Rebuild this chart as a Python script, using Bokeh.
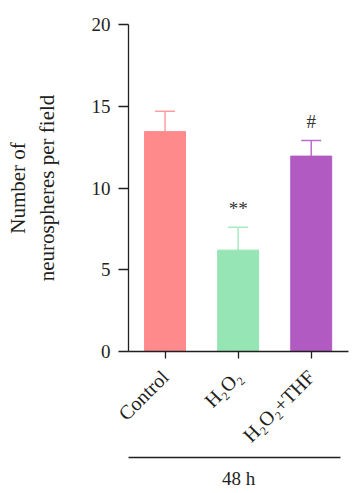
import math
from bokeh.plotting import figure
from bokeh.models import (ColumnDataSource, Range1d, FixedTicker, Whisker, LinearAxis)
from bokeh.core.properties import value
from bokeh.embed import file_html
from bokeh.resources import INLINE

# ---- data ----
categories = ["Control", "H₂O₂", "H₂O₂+THF"]
means = [13.45, 6.2, 11.95]
errors = [1.25, 1.4, 0.95]
marks = ["", "**", "#"]
colors = ["#FF8A8C", "#96E5B5", "#B05AC2"]
err_colors = ["#FF9EA0", "#A8EAC2", "#BB6FCB"]
y_ticks = [0, 5, 10, 15, 20]
group_label = "48 h"
y_label = "Number of\nneurospheres per field"

FONT = "Liberation Serif"
INK = "#231F20"
MARK_GAP = 0.5

xs = list(range(len(categories)))
uppers = [m + e for m, e in zip(means, errors)]
src = ColumnDataSource(dict(x=xs, top=means, upper=uppers, color=colors,
                            ecolor=err_colors, mark=marks,
                            mark_y=[u + MARK_GAP for u in uppers]))

p = figure(width=353, height=493, output_backend="svg", toolbar_location=None,
           x_range=Range1d(-0.5, 2.51), y_range=Range1d(0, 20),
           min_border_left=128, min_border_top=24, min_border_bottom=142,
           min_border_right=5)
p.outline_line_color = None
p.grid.visible = False

p.vbar(x="x", top="top", bottom=0, width=0.56, color="color", source=src)

w = Whisker(source=src, base="x", lower="top", upper="upper",
            line_color="ecolor", line_width=1.5, lower_head=None)
w.upper_head.size = 20
w.upper_head.line_color = "ecolor"
w.upper_head.line_width = 1.5
p.add_layout(w)

p.text(x="x", y="mark_y", text="mark", source=src, text_align="center",
       text_baseline="bottom", text_font=value(FONT), text_font_size="19px",
       text_color="#333333")

# y axis
ya = p.yaxis[0]
ya.ticker = FixedTicker(ticks=y_ticks)
ya.minor_tick_line_color = None
ya.major_tick_out = 10
ya.major_tick_in = 0
ya.major_label_standoff = 8
ya.axis_line_width = 1.3
ya.major_tick_line_width = 1.3
ya.axis_line_color = INK
ya.major_tick_line_color = INK
ya.major_label_text_font = FONT
ya.major_label_text_font_size = "19px"
ya.major_label_text_color = INK
ya.axis_label = y_label
ya.axis_label_text_font = FONT
ya.axis_label_text_font_size = "21px"
ya.axis_label_text_font_style = "normal"
ya.axis_label_text_color = INK
ya.axis_label_standoff = 30

# x axis
xa = p.xaxis[0]
xa.ticker = FixedTicker(ticks=xs)
xa.major_label_overrides = {i: c for i, c in zip(xs, categories)}
xa.minor_tick_line_color = None
xa.major_tick_out = 7
xa.major_tick_in = 0
xa.axis_line_width = 1.3
xa.major_tick_line_width = 1.3
xa.axis_line_color = INK
xa.major_tick_line_color = INK
xa.major_label_orientation = math.pi / 4
xa.major_label_standoff = 15
xa.major_label_text_font = FONT
xa.major_label_text_font_size = "20px"
xa.major_label_text_color = INK

# group line with its label, as a second bottom axis
ga = LinearAxis(ticker=FixedTicker(ticks=[]), bounds=(-0.5, 2.4))
ga.axis_line_color = INK
ga.axis_line_width = 1.3
ga.major_tick_line_color = None
ga.minor_tick_line_color = None
ga.major_label_text_font_size = "0px"
ga.axis_label = group_label
ga.axis_label_text_font = FONT
ga.axis_label_text_font_size = "19px"
ga.axis_label_text_font_style = "normal"
ga.axis_label_text_color = INK
ga.axis_label_standoff = 10
p.add_layout(ga, "below")

open("out.html", "w").write(file_html(p, INLINE))
